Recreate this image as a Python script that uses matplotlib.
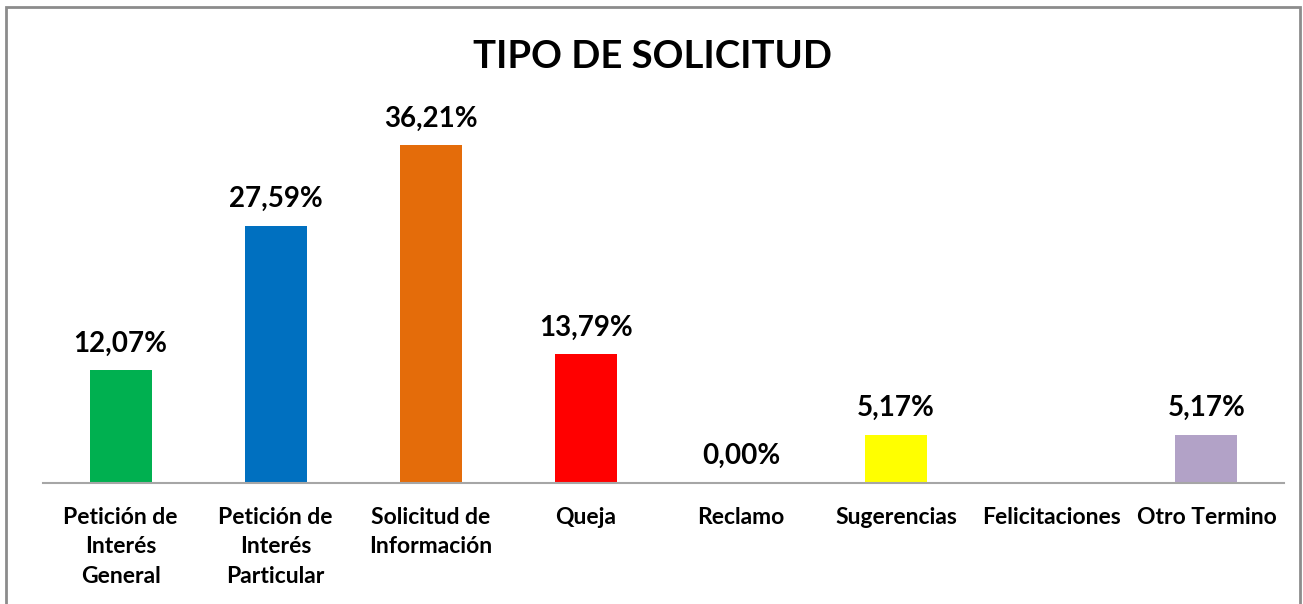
import numpy as np
import matplotlib
matplotlib.use('Agg')
import matplotlib.pyplot as plt
from matplotlib.patches import Rectangle

categorias = ['Petición de\nInterés\nGeneral', 'Petición de\nInterés\nParticular',
	'Solicitud de\nInformación', 'Queja', 'Reclamo', 'Sugerencias',
	'Felicitaciones', 'Otro Termino']
porcentajes = [12.07, 27.59, 36.21, 13.79, 0.00, 5.17, np.nan, 5.17]
colores = ['#00B050', '#0070C0', '#E46C0A', '#FF0000', '#FFFFFF', '#FFFF00', '#FFFFFF', '#B2A2C7']
titulo = 'TIPO DE SOLICITUD'

plt.rcParams['font.family'] = ['Lato', 'DejaVu Sans']

fig = plt.figure(figsize=(13.03, 6.04), dpi=100)
ax = fig.add_axes([43 / 1303, 121 / 604, 1241 / 1303, 373 / 604])

x = np.arange(len(categorias))
alturas = [0 if np.isnan(v) else v for v in porcentajes]
ax.bar(x, alturas, width=0.4, color=colores)

for xi, v in zip(x, porcentajes):
	if np.isnan(v):
		continue
	ax.annotate(f'{v:.2f}%'.replace('.', ','), (xi, v), xytext=(0, 10),
		textcoords='offset points', ha='center', va='bottom',
		fontsize=20, fontweight='bold', color='#000000')

ax.set_xlim(-0.5, len(categorias) - 0.5)
ax.set_ylim(0, 40)
ax.set_xticks(x)
ax.set_xticklabels(categorias, fontsize=16.5, fontweight='bold', linespacing=1.5)
ax.tick_params(axis='x', length=0, pad=17)
ax.set_yticks([])
for s in ['top', 'right', 'left']:
	ax.spines[s].set_visible(False)
ax.spines['bottom'].set_color('#A6A6A6')
ax.spines['bottom'].set_linewidth(1.5)

fig.text(0.501, 1 - 57 / 604, titulo, ha='center', va='center',
	fontsize=27.5, fontweight='bold')

# marco gris alrededor del gráfico
fig.patches.append(Rectangle((6 / 1303, -0.05), 1294 / 1303, 1.05 - 7 / 604,
	transform=fig.transFigure, fill=False, edgecolor='#8C8C8C', linewidth=2))

fig.savefig('out.png', dpi=100)
